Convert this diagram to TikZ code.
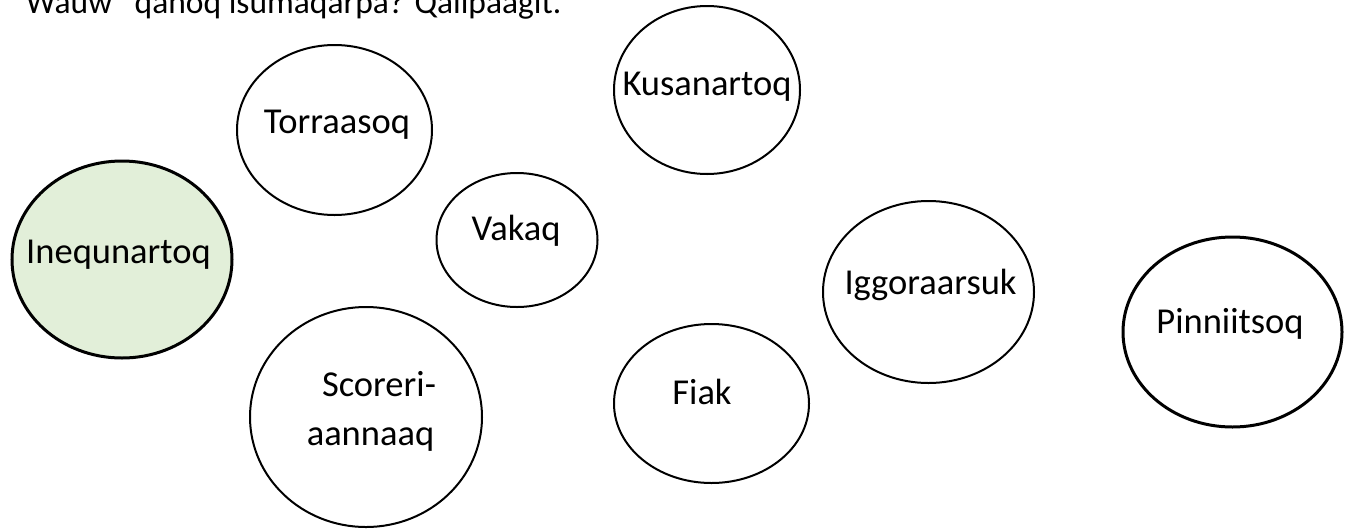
\documentclass[tikz,border=0pt]{standalone}
\usepackage{fontspec}
\setmainfont{Carlito}
\usetikzlibrary{shapes.geometric}
\definecolor{lightgreen}{HTML}{E2EFD9}
\begin{document}
\begin{tikzpicture}[x=1pt,y=-1pt,
  bub/.style={draw=black, ellipse, line width=2pt, inner sep=0pt, fill=white},
  thickbub/.style={bub, line width=3pt},
  lbl/.style={inner sep=0pt, anchor=base, font=\fontsize{36.5}{44}\selectfont},
  ttl/.style={inner sep=0pt, anchor=base west, font=\fontsize{33.5}{41}\selectfont}]
\useasboundingbox (0,0) rectangle (1349,528);
% title (cut at top as in the reference)
\node[ttl] (title) at (11.6,13.2) {“Wauw” qanoq isumaqarpa? Qalipaagit.};
% bubbles
\node[thickbub, fill=lightgreen, minimum width=220pt, minimum height=197pt] (ineq) at (122,259.5) {};
\node[bub, minimum width=195pt, minimum height=170pt] (torr) at (334.5,130) {};
\node[bub, minimum width=186pt, minimum height=168pt] (kusa) at (707,90) {};
\node[bub, minimum width=161pt, minimum height=134pt] (vaka) at (517,240) {};
\node[bub, minimum width=232pt, minimum height=220pt] (scor) at (366,417) {};
\node[bub, minimum width=195pt, minimum height=159pt] (fiak) at (711.5,403.5) {};
\node[bub, minimum width=211pt, minimum height=182pt] (iggo) at (928.5,292) {};
\node[thickbub, minimum width=219pt, minimum height=190pt] (pinn) at (1232.5,332) {};
% labels
\node[lbl] (ineqT) at (118.5,263) {Inequnartoq};
\node[lbl] (torrT) at (337,133) {Torraasoq};
\node[lbl] (kusaT) at (707,95) {Kusanartoq};
\node[lbl] (vakaT) at (516,240) {Vakaq};
\node[lbl] (scorT1) at (379,396) {Scoreri-};
\node[lbl] (scorT2) at (370.5,445) {aannaaq};
\node[lbl] (fiakT) at (702,404) {Fiak};
\node[lbl] (iggoT) at (930.5,294) {Iggoraarsuk};
\node[lbl] (pinnT) at (1230,333) {Pinniitsoq};
\end{tikzpicture}
\end{document}
